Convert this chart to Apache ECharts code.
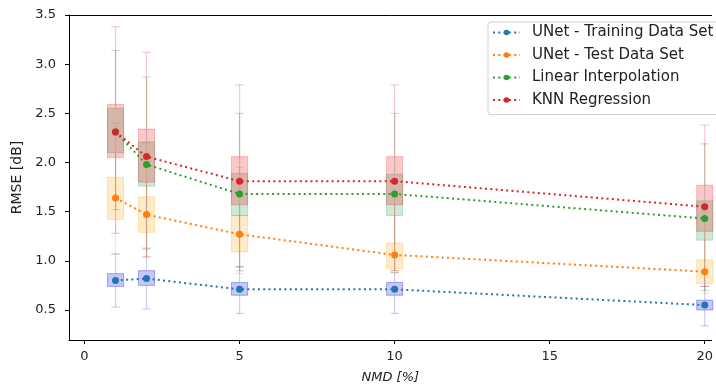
<!DOCTYPE html>
<html>
<head>
<meta charset="utf-8">
<script src="https://cdn.jsdelivr.net/npm/echarts@6/dist/echarts.min.js"></script>
<style>html,body{margin:0;padding:0;background:#fff}#c{width:716px;height:390px}</style>
</head>
<body>
<div id="c"></div>
<script>
// ---- data ----
const positions = [1, 2, 5, 10, 20];
const xTicks = [0, 5, 10, 15, 20];
const yTicks = [0.5, 1.0, 1.5, 2.0, 2.5, 3.0, 3.5];
const seriesNames = ['UNet - Training Data Set', 'UNet - Test Data Set', 'Linear Interpolation', 'KNN Regression'];

const trainMean = [0.80, 0.82, 0.71, 0.71, 0.55];
const testMean = [1.64, 1.47, 1.27, 1.06, 0.89];
const linearMean = [2.31, 1.98, 1.68, 1.68, 1.43];
const knnMean = [2.31, 2.06, 1.81, 1.81, 1.55];

const trainQ1 = [0.74, 0.75, 0.65, 0.65, 0.50];
const trainQ3 = [0.87, 0.90, 0.78, 0.78, 0.60];
const testQ1 = [1.42, 1.29, 1.09, 0.92, 0.77];
const testQ3 = [1.85, 1.65, 1.46, 1.18, 1.01];
const linearQ1 = [2.10, 1.76, 1.46, 1.46, 1.21];
const linearQ3 = [2.55, 2.21, 1.89, 1.88, 1.61];
const knnQ1 = [2.05, 1.80, 1.57, 1.57, 1.30];
const knnQ3 = [2.59, 2.34, 2.06, 2.06, 1.77];

const trainLow = [0.53, 0.51, 0.465, 0.465, 0.34];
const trainHigh = [1.07, 1.12, 0.94, 0.88, 0.74];
const testLow = [1.07, 1.04, 0.87, 0.88, 0.67];
const testHigh = [2.40, 2.20, 1.95, 1.70, 1.50];
const linearLow = [1.52, 1.13, 0.90, 0.90, 0.70];
const linearHigh = [3.14, 2.87, 2.50, 2.50, 2.19];
const knnLow = [1.28, 1.04, 0.94, 0.90, 0.74];
const knnHigh = [3.38, 3.12, 2.79, 2.79, 2.38];

// ---- styles ----
const FONT = 'DejaVu Sans';
const BOX_W = 0.52, CAP_W = 0.27;
const lineColors = ['#1f77b4', '#ff7f0e', '#2ca02c', '#d62728'];
const boxFill = ['rgba(0,0,210,0.22)', 'rgba(255,165,0,0.22)', 'rgba(0,150,50,0.2)', 'rgba(240,0,20,0.22)'];
const boxStroke = ['rgba(0,0,200,0.3)', 'rgba(255,165,0,0.25)', 'rgba(0,150,50,0.22)', 'rgba(240,0,20,0.22)'];
const whiskColor = ['rgba(0,0,200,0.2)', 'rgba(230,140,0,0.22)', 'rgba(0,120,40,0.22)', 'rgba(220,0,20,0.22)'];

function boxSeries(idx, low, q1, q3, high) {
  return {
    type: 'custom', name: seriesNames[idx] + ' box', silent: true, z: 1 + idx * 0.1,
    data: positions.map((p, i) => [p, low[i], q1[i], q3[i], high[i]]),
    encode: { x: 0, y: [1, 2, 3, 4] },
    renderItem: function (params, api) {
      const x = api.value(0);
      const bw = api.size([BOX_W, 0])[0];
      const cw = api.size([CAP_W, 0])[0];
      const pL = api.coord([x, api.value(1)]);
      const p1 = api.coord([x, api.value(2)]);
      const p3 = api.coord([x, api.value(3)]);
      const pH = api.coord([x, api.value(4)]);
      const ws = { stroke: whiskColor[idx], lineWidth: 1.2 };
      return {
        type: 'group', children: [
          { type: 'line', shape: { x1: pL[0], y1: pL[1], x2: p1[0], y2: p1[1] }, style: ws },
          { type: 'line', shape: { x1: p3[0], y1: p3[1], x2: pH[0], y2: pH[1] }, style: ws },
          { type: 'line', shape: { x1: pL[0] - cw / 2, y1: pL[1], x2: pL[0] + cw / 2, y2: pL[1] }, style: ws },
          { type: 'line', shape: { x1: pH[0] - cw / 2, y1: pH[1], x2: pH[0] + cw / 2, y2: pH[1] }, style: ws },
          { type: 'rect', shape: { x: p1[0] - bw / 2, y: p3[1], width: bw, height: p1[1] - p3[1] },
            style: { fill: boxFill[idx], stroke: boxStroke[idx], lineWidth: 1 } }
        ]
      };
    }
  };
}

function lineSeries(idx, mean) {
  return {
    type: 'line', name: seriesNames[idx], z: 5,
    data: positions.map((p, i) => [p, mean[i]]),
    symbol: 'circle', symbolSize: 7, showSymbol: true,
    itemStyle: { color: lineColors[idx] },
    lineStyle: { color: lineColors[idx], width: 2, type: [2, 3.3] },
    emphasis: { disabled: true }
  };
}

const chart = echarts.init(document.getElementById('c'), null, { renderer: 'canvas' });
chart.setOption({
  animation: false,
  backgroundColor: '#fff',
  grid: { left: 69, right: 0, top: 15, bottom: 50, containLabel: false },
  legend: {
    data: seriesNames,
    orient: 'vertical', left: 488, top: 22,
    itemWidth: 27, itemHeight: 7, itemGap: 7.5,
    padding: [3, 12, 7, 4],
    borderColor: '#d0d0d0', borderWidth: 1, borderRadius: 3,
    backgroundColor: 'rgba(255,255,255,0.85)',
    textStyle: { fontFamily: FONT, fontSize: 15, color: '#222', padding: [0, 0, 0, 7] }
  },
  xAxis: [{
    type: 'value', min: -0.5, max: 20.22,
    name: 'NMD [%]', nameLocation: 'middle', nameGap: 31,
    nameTextStyle: { fontFamily: FONT, fontSize: 13, fontStyle: 'italic', color: '#222' },
    axisLine: { show: true, onZero: false, lineStyle: { color: '#000', width: 1 } },
    axisTick: { show: true, length: 4, customValues: xTicks, lineStyle: { color: '#000' } },
    axisLabel: { customValues: xTicks, margin: 10, fontFamily: FONT, fontSize: 13, color: '#222' },
    splitLine: { show: false }
  }, {
    type: 'value', position: 'top', min: -0.5, max: 20.22,
    axisLine: { show: true, onZero: false, lineStyle: { color: '#000', width: 1 } },
    axisTick: { show: false }, axisLabel: { show: false }, splitLine: { show: false }
  }],
  yAxis: {
    type: 'value', min: 0.195, max: 3.5,
    name: 'RMSE [dB]', nameLocation: 'middle', nameGap: 41,
    nameTextStyle: { fontFamily: FONT, fontSize: 14, color: '#222' },
    axisLine: { show: true, onZero: false, lineStyle: { color: '#000', width: 1 } },
    axisTick: { show: true, length: 4, customValues: yTicks, lineStyle: { color: '#000' } },
    axisLabel: { customValues: yTicks, margin: 13, fontFamily: FONT, fontSize: 13, color: '#222',
      formatter: v => v.toFixed(1) },
    splitLine: { show: false }
  },
  series: [
    boxSeries(0, trainLow, trainQ1, trainQ3, trainHigh),
    boxSeries(1, testLow, testQ1, testQ3, testHigh),
    boxSeries(2, linearLow, linearQ1, linearQ3, linearHigh),
    boxSeries(3, knnLow, knnQ1, knnQ3, knnHigh),
    lineSeries(0, trainMean),
    lineSeries(1, testMean),
    lineSeries(2, linearMean),
    lineSeries(3, knnMean)
  ]
});
</script>
</body>
</html>
